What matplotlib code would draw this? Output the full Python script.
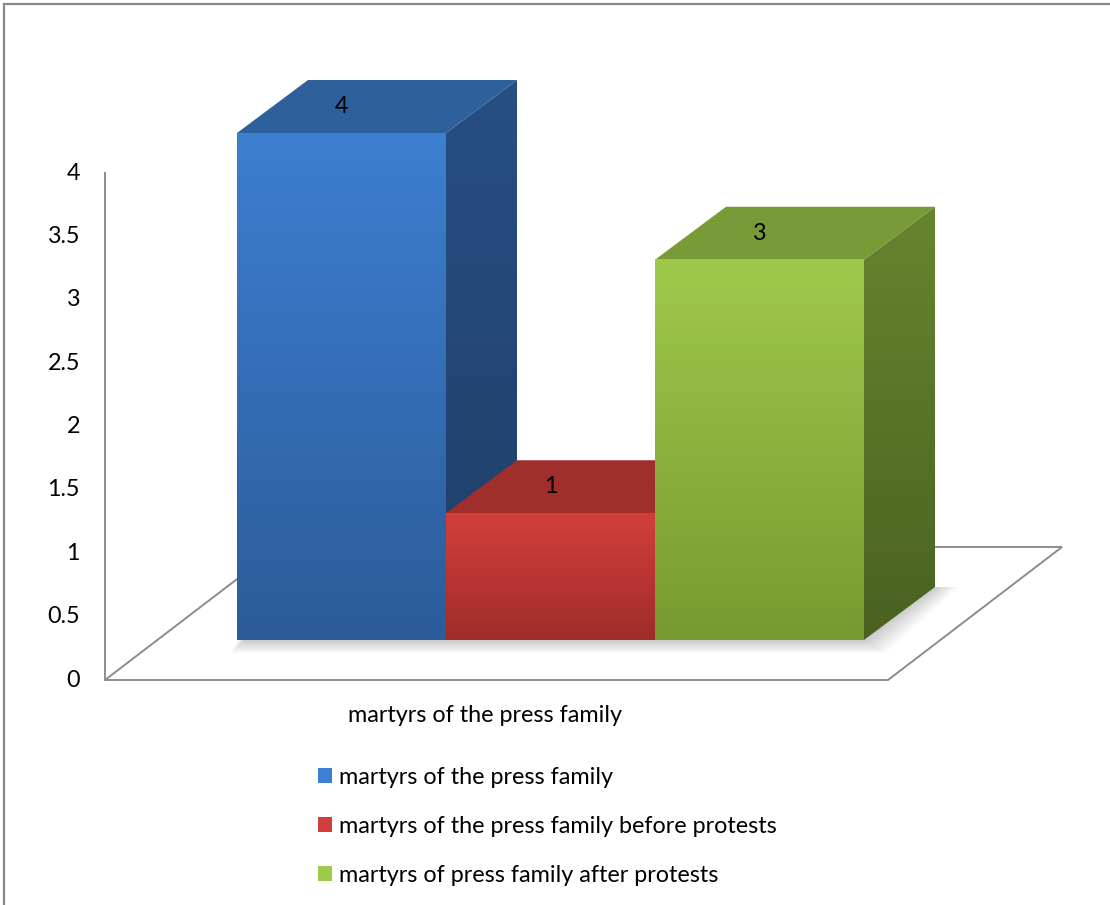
import numpy as np
import matplotlib.pyplot as plt
from matplotlib.patches import Polygon, Patch
from matplotlib.colors import LinearSegmentedColormap

plt.rcParams['font.family'] = ['Lato', 'DejaVu Sans']

categories = ['martyrs of the press family']
series = ['martyrs of the press family',
          'martyrs of the press family before protests',
          'martyrs of press family after protests']
values = [4, 1, 3]
yticks = [0, 0.5, 1, 1.5, 2, 2.5, 3, 3.5, 4]

front_top = ['#3d7fd1', '#d23e3a', '#9fc94b']
front_bot = ['#2c5b99', '#9f2c2a', '#779a30']
top_col = ['#2e609c', '#a02e2d', '#789a37']
side_top = ['#274f83', '#86262a', '#67852f']
side_bot = ['#1f3e68', '#6b1d1c', '#4a6121']
grey = '#8c8c8c'
fs = 16.8

W, H = 1110, 905
U = 126.75          # pixels per unit on the value axis
y0px = 680          # pixel row of value 0 on the front plane


def py(p):
    # pixel row -> value units
    return (y0px - p) / U


fig = plt.figure(figsize=(W / 100, H / 100), dpi=100)
ax = fig.add_axes([0, 0, 1, 1])
ax.set_xlim(0, W)
ax.set_ylim(py(H), py(0))
ax.set_autoscale_on(False)
ax.axis('off')

# outer border (top and left only)
ax.plot([4, W], [py(4), py(4)], color='#8a8a8a', lw=1.6)
ax.plot([4, 4], [py(4), py(H)], color='#8a8a8a', lw=1.6)

# floor and value axis
fx0, fx1 = 105, 888
fdx, fdy = 174, 133 / U
floor = Polygon([(fx0, 0), (fx1, 0), (fx1 + fdx, fdy), (fx0 + fdx, fdy)],
                closed=True, fill=False, edgecolor=grey, lw=1.4, zorder=1)
ax.add_patch(floor)
ax.plot([fx0, fx0], [0, yticks[-1]], color=grey, lw=1.4, zorder=1)
for t in yticks:
    ax.text(80, t, f'{t:g}', ha='right', va='center', fontsize=fs)

# bars
bw = 209
bx0 = 237
base = 40 / U
dx, dy = 71, 53 / U
grad = np.linspace(1, 0, 256).reshape(-1, 1)

# soft shadow under the bars
n = len(values)
for k in range(8):
    e = 2 + k * 1.6
    sh = Polygon([(bx0 - e * 0.5, base - e / U), (bx0 + n * bw + e * 1.6, base - e / U),
                  (bx0 + n * bw + dx + e * 1.8, base + dy), (bx0 + dx - e, base + dy)],
                 closed=True, facecolor='black', edgecolor='none', alpha=0.025, zorder=2)
    ax.add_patch(sh)

for i, v in enumerate(values):
    x0 = bx0 + i * bw
    x1 = x0 + bw
    top = base + v
    z = 3 + i
    cm_f = LinearSegmentedColormap.from_list('f', [front_bot[i], front_top[i]])
    cm_s = LinearSegmentedColormap.from_list('s', [side_bot[i], side_top[i]])
    # side face
    side = Polygon([(x1, base), (x1 + dx, base + dy), (x1 + dx, top + dy), (x1, top)],
                   closed=True, facecolor='none', edgecolor='none', zorder=z)
    ax.add_patch(side)
    im = ax.imshow(grad, extent=[x1, x1 + dx, base, top + dy], cmap=cm_s,
                   aspect='auto', zorder=z, interpolation='bilinear')
    im.set_clip_path(side)
    # top face
    ax.add_patch(Polygon([(x0, top), (x1, top), (x1 + dx, top + dy), (x0 + dx, top + dy)],
                         closed=True, facecolor=top_col[i], edgecolor='none', zorder=z))
    # front face
    ax.imshow(grad, extent=[x0, x1, base, top], cmap=cm_f, aspect='auto',
              zorder=z, interpolation='bilinear')
    ax.text(x0 + bw / 2, top + dy / 2, str(v), ha='center', va='center',
            fontsize=fs, zorder=10)

ax.text(485, py(715), categories[0], ha='center', va='center', fontsize=fs)

handles = [Patch(facecolor=front_top[i], edgecolor='none') for i in range(n)]
fig.legend(handles=handles, labels=series, loc='upper left',
           bbox_to_anchor=(318 / W, 1 - 767 / H), frameon=False, fontsize=fs,
           handlelength=0.6, handleheight=0.6, handletextpad=0.3,
           labelspacing=1.2, borderpad=0, borderaxespad=0)

fig.savefig('out.png', dpi=100)
